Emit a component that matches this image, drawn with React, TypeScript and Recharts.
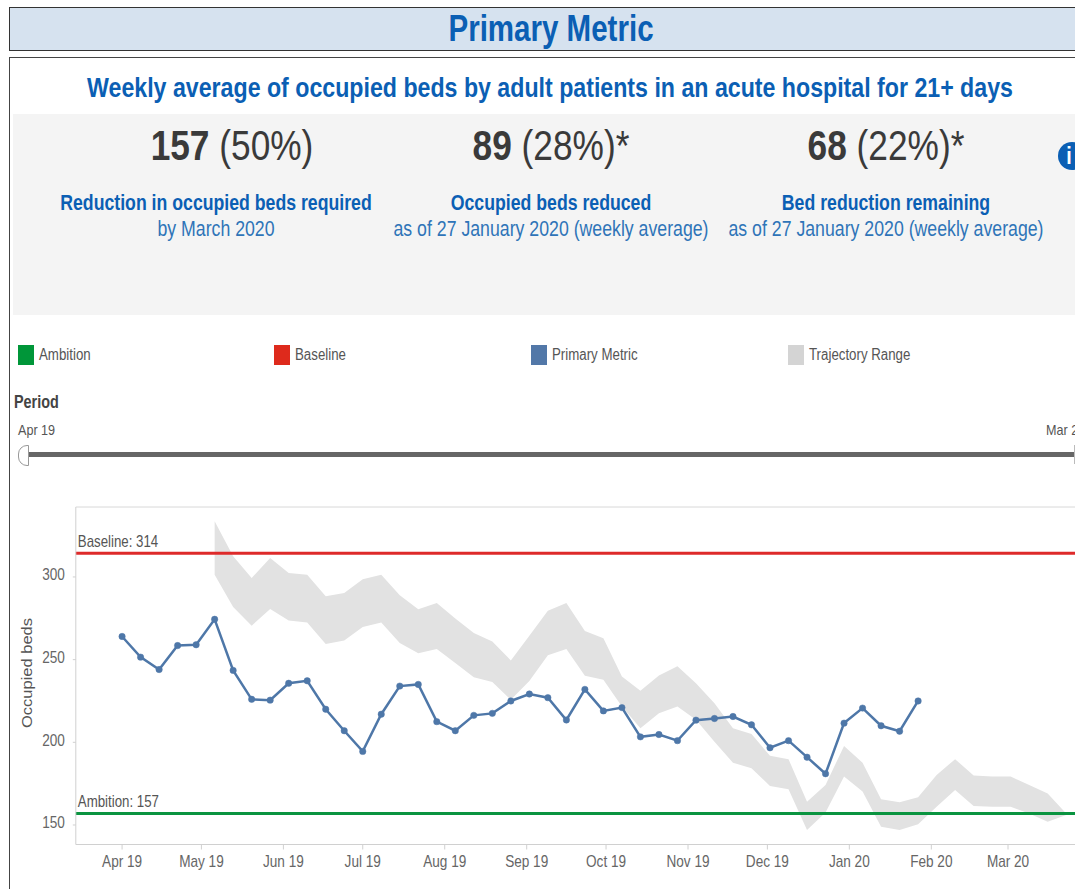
import React from 'react';
import { ComposedChart, Area, Line, XAxis, YAxis, ReferenceLine } from 'recharts';

const FONT = '"Liberation Sans", sans-serif';
const BLUE_TEXT = '#0b5fb4';

const weekDates = [
  '2019-04-01', '2019-04-08', '2019-04-15', '2019-04-22', '2019-04-29', '2019-05-06', '2019-05-13', '2019-05-20',
  '2019-05-27', '2019-06-03', '2019-06-10', '2019-06-17', '2019-06-24', '2019-07-01', '2019-07-08', '2019-07-15',
  '2019-07-22', '2019-07-29', '2019-08-05', '2019-08-12', '2019-08-19', '2019-08-26', '2019-09-02', '2019-09-09',
  '2019-09-16', '2019-09-23', '2019-09-30', '2019-10-07', '2019-10-14', '2019-10-21', '2019-10-28', '2019-11-04',
  '2019-11-11', '2019-11-18', '2019-11-25', '2019-12-02', '2019-12-09', '2019-12-16', '2019-12-23', '2019-12-30',
  '2020-01-06', '2020-01-13', '2020-01-20', '2020-01-27', '2020-02-03', '2020-02-10', '2020-02-17', '2020-02-24',
  '2020-03-02', '2020-03-09', '2020-03-16', '2020-03-23',
];

const occupiedBeds = [
  264, 251.5, 244, 258.5, 259, 274.4, 243.5, 226, 225.5, 235.7, 237.2, 220, 207, 194.5, 217, 234,
  235, 212.5, 207, 216.3, 217.5, 225, 229.2, 227, 213.5, 232, 219, 221, 203.3, 204.7, 201, 213.4,
  214.4, 215.6, 210.6, 196.7, 201, 191, 181, 211.6, 220.7, 210, 206.7, 225,
];

const trajectoryHigh = [
  null, null, null, null, null, 333.7, 312.5, 299.4, 311.5, 302.4, 301.4, 288.3, 290.3, 298.6, 301.4, 288.9,
  280.4, 284.3, 274.8, 266.1, 261, 249.5, 264.5, 279.6, 284.3, 267.3, 263, 239.8, 231.2, 240.4, 246, 235.7,
  223.6, 208.5, 205, 191.8, 189.8, 164.1, 174.2, 197.8, 187.7, 165.5, 163.7, 166.7, 180.3, 189.8, 179.9, 179.3,
  179.3, 174.2, 169, 157,
];

const trajectoryLow = [
  null, null, null, null, null, 301.4, 281.8, 270.5, 280.6, 273.6, 272.5, 259.4, 261.6, 269.7, 272.5, 260,
  253.8, 256.4, 247.9, 239.4, 236.4, 225.7, 237, 252.6, 256.4, 240.2, 237.8, 221.7, 208.5, 217.5, 221.7, 213.6,
  200.4, 187.7, 184.3, 173.6, 171.6, 147, 157.5, 179.3, 170.2, 149, 147, 150.4, 161, 171.2, 161.5, 161,
  161, 157, 152, 156,
];

const monthTicks = [
  '2019-04-01', '2019-05-01', '2019-06-01', '2019-07-01', '2019-08-01', '2019-09-01',
  '2019-10-01', '2019-11-01', '2019-12-01', '2020-01-01', '2020-02-01', '2020-03-01',
];
const monthLabels = ['Apr 19', 'May 19', 'Jun 19', 'Jul 19', 'Aug 19', 'Sep 19', 'Oct 19', 'Nov 19', 'Dec 19', 'Jan 20', 'Feb 20', 'Mar 20'];
const yTicks = [150, 200, 250, 300];

const legendItems = [
  { label: 'Ambition', color: '#009639', x: 18 },
  { label: 'Baseline', color: '#de2a1c', x: 274 },
  { label: 'Primary Metric', color: '#5278a8', x: 531 },
  { label: 'Trajectory Range', color: '#d4d4d4', x: 788 },
];

const kpis = [
  { x: 232, big: '157', rest: ' (50%)', head: 'Reduction in occupied beds required', sub: 'by March 2020', lx: 216 },
  { x: 551, big: '89', rest: ' (28%)*', head: 'Occupied beds reduced', sub: 'as of 27 January 2020 (weekly average)', lx: 551 },
  { x: 886, big: '68', rest: ' (22%)*', head: 'Bed reduction remaining', sub: 'as of 27 January 2020 (weekly average)', lx: 886 },
];

const toTime = (d: string) => new Date(d + 'T00:00:00Z').getTime();
const tickTimes = monthTicks.map(toTime);

const data = weekDates.map((d, i) => ({
  time: toTime(d),
  beds: occupiedBeds[i],
  range: trajectoryLow[i] == null ? undefined : [trajectoryLow[i], trajectoryHigh[i]],
}));

// the reference is squeezed sideways, so text gets a horizontal scale
const Txt: React.FC<{ x: number; y: number; size: number; sx?: number; color?: string; bold?: boolean; left?: boolean; children: React.ReactNode }> = ({
  x, y, size, sx = 0.82, color = '#444', bold, left, children,
}) => (
  <div
    style={{
      position: 'absolute', left: x, top: y, fontSize: size, color, fontWeight: bold ? 700 : 400, lineHeight: 1,
      whiteSpace: 'pre', fontFamily: FONT, transformOrigin: left ? '0 50%' : '50% 50%',
      transform: left ? `translateY(-50%) scaleX(${sx})` : `translate(-50%, -50%) scaleX(${sx})`,
    }}
  >
    {children}
  </div>
);

const XTick = ({ x, y, payload }: any) => (
  <text
    transform={`translate(${x},${y + 11}) scale(0.85,1)`}
    textAnchor="middle"
    fontSize={16}
    fill="#666"
    fontFamily={FONT}
  >
    {monthLabels[tickTimes.indexOf(payload.value)]}
  </text>
);

const YTick = ({ x, y, payload }: any) => (
  <text
    transform={`translate(${x - 3},${y + 3.5}) scale(0.85,1)`}
    textAnchor="end"
    fontSize={16}
    fill="#666"
    fontFamily={FONT}
  >
    {payload.value}
  </text>
);

const AxisTitle = () => (
  <text transform="translate(32,183) rotate(-90) scale(1,0.85)" textAnchor="middle" fontSize={16.5} fill="#555" fontFamily={FONT}>
    Occupied beds
  </text>
);

const LineLabel = ({ viewBox, value }: any) => (
  <text
    transform={`translate(${viewBox.x + 2},${viewBox.y - 6}) scale(0.83,1)`}
    fontSize={16}
    fill="#555"
    fontFamily={FONT}
  >
    {value}
  </text>
);

export default function App() {
  return (
    <div style={{ position: 'absolute', left: 0, top: 0, width: 1075, height: 889, overflow: 'hidden', background: '#fff' }}>
      <div style={{ position: 'absolute', left: 9, top: 7, width: 1090, height: 42, background: '#d6e2ef', border: '1.5px solid #333' }} />
      <div style={{ position: 'absolute', left: 9, top: 57, width: 1090, height: 860, border: '1.5px solid #444' }} />
      <div style={{ position: 'absolute', left: 13, top: 114, width: 1062, height: 201, background: '#f4f4f4' }} />

      <Txt x={551} y={29} size={36} color={BLUE_TEXT} bold>Primary Metric</Txt>
      <Txt x={550} y={88} size={27} sx={0.858} color={BLUE_TEXT} bold>Weekly average of occupied beds by adult patients in an acute hospital for 21+ days</Txt>

      {kpis.map((k) => (
        <React.Fragment key={k.big}>
          <Txt x={k.x} y={145} size={43} color="#3a3a3a"><b>{k.big}</b>{k.rest}</Txt>
          <Txt x={k.lx} y={203} size={22.5} sx={0.786} color={BLUE_TEXT} bold>{k.head}</Txt>
          <Txt x={k.lx} y={229} size={22} sx={0.805} color="#2f74b8">{k.sub}</Txt>
        </React.Fragment>
      ))}

      <div style={{ position: 'absolute', left: 1058, top: 142, width: 28, height: 28, borderRadius: 14, background: BLUE_TEXT }} />
      <Txt x={1069} y={156} size={24} color="#fff" bold>i</Txt>

      {legendItems.map((l) => (
        <React.Fragment key={l.label}>
          <div style={{ position: 'absolute', left: l.x, top: 345, width: 16, height: 20, background: l.color }} />
          <Txt x={l.x + 21} y={355} size={16} sx={0.83} color="#555" left>{l.label}</Txt>
        </React.Fragment>
      ))}

      <Txt x={14} y={402} size={18} sx={0.8} color="#444" bold left>Period</Txt>
      <Txt x={18} y={429} size={15} sx={0.84} color="#555" left>Apr 19</Txt>
      <Txt x={1046} y={429} size={15} sx={0.84} color="#555" left>Mar 20</Txt>
      <div style={{ position: 'absolute', left: 26, top: 452, width: 1060, height: 5, background: '#666' }} />
      <div style={{ position: 'absolute', left: 18, top: 445, width: 9, height: 19, background: '#fff', border: '1px solid #999', borderRadius: '9px 0 0 9px' }} />
      <div style={{ position: 'absolute', left: 1074, top: 445, width: 1, height: 19, background: '#bbb' }} />

      <div style={{ position: 'absolute', left: 0, top: 490 }}>
        <ComposedChart width={1100} height={399} data={data} margin={{ top: 17, right: 10, bottom: 0, left: 0 }}>
          <XAxis
            dataKey="time"
            type="number"
            scale="time"
            domain={[toTime('2019-03-14') + 43200000, toTime('2020-04-01')]}
            ticks={tickTimes}
            height={44.5}
            interval={0}
            stroke="#d0d0d0"
            tickSize={5}
            tickMargin={6}
            tick={<XTick />}
          />
          <YAxis
            domain={[138.2, 342.3]}
            ticks={yTicks}
            width={75.8}
            interval={0}
            stroke="#d0d0d0"
            tickSize={3}
            tickMargin={5}
            tick={<YTick />}
            label={<AxisTitle />}
          />
          <Area dataKey="range" stroke="none" fill="#e2e2e2" fillOpacity={1} isAnimationActive={false} dot={false} activeDot={false} />
          <ReferenceLine y={342.3} stroke="#d8d8d8" strokeWidth={1} />
          <ReferenceLine y={314.4} stroke="#de2a2a" strokeWidth={3} label={<LineLabel value="Baseline: 314" />} />
          <ReferenceLine y={157} stroke="#0a9440" strokeWidth={3} label={<LineLabel value="Ambition: 157" />} />
          <Line
            dataKey="beds"
            stroke="#4e77a8"
            strokeWidth={2.5}
            dot={{ r: 3.2, fill: '#4e77a8', stroke: '#4e77a8', strokeWidth: 0.5 }}
            activeDot={false}
            connectNulls={false}
            isAnimationActive={false}
          />
        </ComposedChart>
      </div>
    </div>
  );
}
